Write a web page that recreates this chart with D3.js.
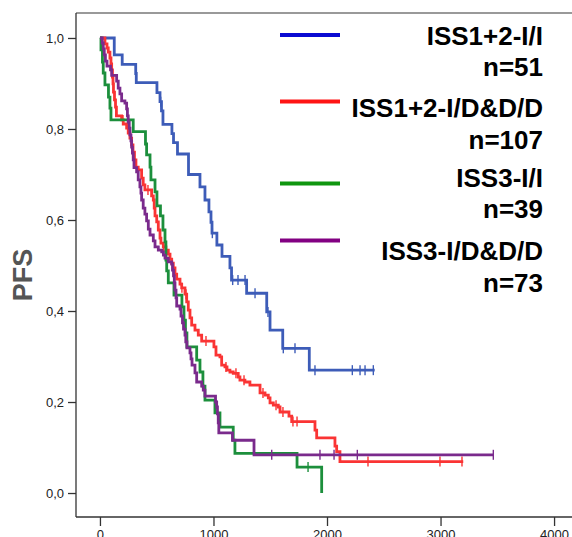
<!DOCTYPE html>
<html>
<head>
  <meta charset="utf-8">
  <title>PFS</title>
  <script src="https://d3js.org/d3.v7.min.js"></script>
  <style>
    body { margin: 0; background: #fff; }
    svg { display: block; font-family: "Liberation Sans", Arial, sans-serif; }
    .axis text { font-size: 13px; fill: #222; }
    .axis path, .axis line { stroke: #333; stroke-width: 1.3; }
    .legend text { font-size: 26px; font-weight: bold; fill: #000; }
  </style>
</head>
<body>
  <svg id="chart"></svg>
  <script>
    // tick values
    const xTicks = [0, 1000, 2000, 3000, 4000];
    const yTicks = [0, 0.2, 0.4, 0.6, 0.8, 1.0];

    // groups (legend)
    const groupNames = ["ISS1+2-I/I", "ISS1+2-I/D&D/D", "ISS3-I/I", "ISS3-I/D&D/D"];
    const groupN = ["n=51", "n=107", "n=39", "n=73"];
    const legendColors = ["#0a0ad2", "#ff1414", "#0f960f", "#820082"];
    const curveColors = ["#3d5cb8", "#fa3434", "#1c8f3c", "#7a2a8c"];

    // KM steps: [days, survival after the drop]
    const blueSteps = [[126,0.963],[196,0.942],[315,0.922],[320,0.902],[502,0.880],[529,0.860],[542,0.840],[555,0.810],
      [634,0.790],[648,0.770],[683,0.745],[780,0.700],[881,0.673],[925,0.644],[960,0.618],[978,0.595],[987,0.571],
      [1030,0.545],[1075,0.520],[1145,0.495],[1159,0.468],[1292,0.439],[1469,0.398],[1498,0.358],[1610,0.318],[1844,0.270]];
    const blueCensor = [317, 535, 990, 1169, 1216, 1278, 1366, 1480, 1615, 1718, 1894, 2223, 2291, 2335, 2408];
    const blueEnd = 2420;

    const redSteps = [[44,0.987],[62,0.978],[73,0.969],[88,0.956],[97,0.943],[103,0.930],[110,0.914],[115,0.899],
      [119,0.881],[128,0.864],[137,0.848],[145,0.829],[191,0.820],[205,0.811],[235,0.802],[249,0.791],[264,0.780],
      [279,0.765],[291,0.749],[304,0.732],[317,0.716],[337,0.710],[367,0.692],[381,0.677],[396,0.666],[455,0.653],
      [470,0.644],[478,0.626],[485,0.609],[500,0.596],[514,0.578],[529,0.560],[537,0.549],[558,0.541],[581,0.534],
      [602,0.525],[617,0.514],[632,0.505],[646,0.495],[661,0.481],[676,0.470],[705,0.459],[720,0.451],[749,0.437],
      [764,0.420],[778,0.402],[793,0.385],[808,0.369],[837,0.358],[866,0.347],[896,0.334],[1004,0.321],[1022,0.303],
      [1057,0.299],[1072,0.281],[1101,0.277],[1119,0.270],[1145,0.266],[1174,0.263],[1218,0.255],[1233,0.248],
      [1277,0.244],[1321,0.237],[1410,0.220],[1454,0.215],[1483,0.209],[1498,0.198],[1527,0.193],[1571,0.189],
      [1586,0.178],[1665,0.169],[1689,0.157],[1894,0.138],[1909,0.121],[2070,0.103],[2085,0.091],[2114,0.069]];
    const redCensor = [203, 423, 560, 722, 758, 934, 1110, 1198, 1269, 1436, 1551, 1612, 1700, 1736, 2361, 2995, 3189];
    const redEnd = 3200;

    const greenSteps = [[9,0.974],[22,0.947],[29,0.923],[44,0.897],[75,0.870],[88,0.846],[97,0.820],[293,0.794],
      [401,0.767],[411,0.743],[441,0.716],[449,0.688],[485,0.662],[502,0.631],[533,0.609],[555,0.578],[573,0.552],
      [581,0.512],[588,0.488],[602,0.462],[652,0.435],[722,0.409],[740,0.380],[753,0.352],[766,0.321],[852,0.292],
      [881,0.266],[907,0.235],[925,0.204],[1013,0.176],[1057,0.145],[1174,0.116],[1189,0.087],[1736,0.057],[1953,0.0]];
    const greenCensor = [1833];
    const greenEnd = 1953;

    const purpleSteps = [[20,0.989],[29,0.976],[38,0.963],[48,0.949],[62,0.938],[93,0.930],[103,0.918],[147,0.905],
      [161,0.890],[176,0.877],[191,0.862],[220,0.857],[235,0.844],[242,0.829],[249,0.815],[258,0.802],[264,0.787],
      [273,0.774],[279,0.760],[286,0.747],[293,0.732],[300,0.715],[323,0.706],[337,0.688],[352,0.673],[361,0.659],
      [367,0.644],[381,0.626],[396,0.613],[411,0.598],[426,0.580],[441,0.567],[470,0.554],[485,0.541],[514,0.534],
      [544,0.530],[559,0.523],[573,0.516],[602,0.508],[632,0.503],[639,0.490],[648,0.477],[655,0.462],[661,0.446],
      [670,0.429],[676,0.411],[705,0.404],[714,0.389],[727,0.374],[736,0.360],[749,0.347],[756,0.332],[766,0.319],
      [793,0.308],[802,0.295],[811,0.281],[837,0.264],[852,0.244],[896,0.235],[910,0.226],[925,0.213],[1018,0.200],
      [1028,0.189],[1035,0.174],[1042,0.154],[1047,0.132],[1167,0.116],[1357,0.084]];
    const purpleCensor = [1513, 1938, 2062, 2267, 3465];
    const purpleEnd = 3465;

    const groups = [
      { steps: blueSteps, censor: blueCensor, end: blueEnd },
      { steps: redSteps, censor: redCensor, end: redEnd },
      { steps: greenSteps, censor: greenCensor, end: greenEnd },
      { steps: purpleSteps, censor: purpleCensor, end: purpleEnd }
    ];

    const W = 572, H = 537;
    const svg = d3.select("#chart").attr("width", W).attr("height", H);

    const x = d3.scaleLinear().domain([-211, 4158]).range([76, 572]);
    const y = d3.scaleLinear().domain([-0.0527, 1.0549]).range([517, 13]);

    // frame top line
    svg.append("line")
      .attr("x1", 76).attr("x2", W).attr("y1", 13).attr("y2", 13)
      .attr("stroke", "#777").attr("stroke-width", 1.3);

    // axes
    svg.append("g")
      .attr("class", "axis")
      .attr("transform", "translate(76,0)")
      .call(d3.axisLeft(y).tickValues(yTicks).tickSize(8).tickPadding(4)
        .tickFormat(d => d3.format(".1f")(d).replace(".", ",")))
      .call(g => g.select(".domain").attr("d", "M0,13V517"));

    svg.append("g")
      .attr("class", "axis")
      .attr("transform", "translate(0,517)")
      .call(d3.axisBottom(x).tickValues(xTicks).tickSize(9).tickPadding(4).tickFormat(d3.format("d")))
      .call(g => g.select(".domain").attr("d", "M76,0H" + W));

    // y label
    svg.append("text")
      .attr("transform", "translate(32,275) rotate(-90)")
      .attr("text-anchor", "middle")
      .style("font-size", "27px")
      .style("font-weight", "bold")
      .style("fill", "#555")
      .text("PFS");

    // survival value at time t
    function survAt(steps, t) {
      let s = 1;
      steps.forEach(d => { if (d[0] <= t) s = d[1]; });
      return s;
    }

    // curves
    groups.forEach((g, i) => {
      const pts = [[0, 1]];
      let s = 1;
      g.steps.forEach(d => {
        pts.push([d[0], s]);
        pts.push([d[0], d[1]]);
        s = d[1];
      });
      pts.push([g.end, s]);

      svg.append("path")
        .datum(pts)
        .attr("fill", "none")
        .attr("stroke", curveColors[i])
        .attr("stroke-width", 2.8)
        .attr("stroke-linejoin", "miter")
        .attr("d", d3.line().x(d => x(d[0])).y(d => y(d[1])));

      svg.selectAll(".cens" + i)
        .data(g.censor)
        .enter()
        .append("line")
        .attr("class", "cens" + i)
        .attr("x1", d => x(d)).attr("x2", d => x(d))
        .attr("y1", d => y(survAt(g.steps, d)) - 5)
        .attr("y2", d => y(survAt(g.steps, d)) + 5)
        .attr("stroke", curveColors[i])
        .attr("stroke-width", 1.4);
    });

    // legend
    const legend = svg.append("g").attr("class", "legend");
    const lineY = [35, 101.5, 183.5, 240.5];
    const nameY = [45, 117, 187, 260];
    const countY = [76, 149, 218, 292];
    groupNames.forEach((name, i) => {
      legend.append("line")
        .attr("x1", 280).attr("x2", 340)
        .attr("y1", lineY[i]).attr("y2", lineY[i])
        .attr("stroke", legendColors[i])
        .attr("stroke-width", 4);
      legend.append("text")
        .attr("x", 543).attr("y", nameY[i])
        .attr("text-anchor", "end")
        .text(name);
      legend.append("text")
        .attr("x", 543).attr("y", countY[i])
        .attr("text-anchor", "end")
        .text(groupN[i]);
    });
  </script>
</body>
</html>
